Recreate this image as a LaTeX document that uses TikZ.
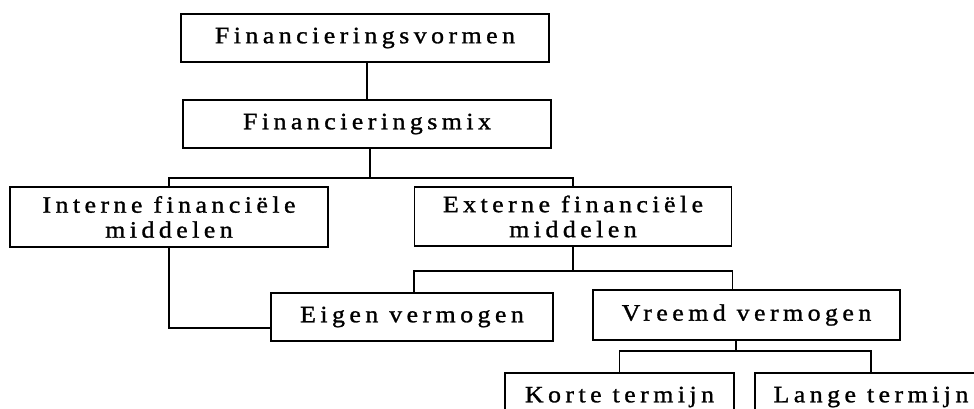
\documentclass[tikz,border=0pt]{standalone}
\usepackage{fontspec}
\setmainfont[LetterSpace=19,FakeStretch=1.1,FakeBold=1.2]{Liberation Serif}
\begin{document}
\begin{tikzpicture}[x=1pt,y=-1pt,
  box/.style={draw, line width=1.3pt, inner sep=0pt, align=center,
              font=\fontsize{23.5}{25}\selectfont},
  link/.style={line width=1.3pt}]
\useasboundingbox (0,0) rectangle (974,408);
\clip (0,0) rectangle (974,408);
\fill[white] (0,0) rectangle (974,408);
% boxes
\node[box, minimum width=368pt, minimum height=48pt] (vorm) at (365,38) {Financieringsvormen};
\node[box, minimum width=368pt, minimum height=48pt] (mix) at (367,124) {Financieringsmix};
\node[box, minimum width=318pt, minimum height=60pt] (int) at (169,217) {Interne financiële\\middelen};
\node[box, minimum width=317pt, minimum height=59pt] (ext) at (573,216.5) {Externe financiële\\middelen};
\node[box, minimum width=282pt, minimum height=48pt] (eig) at (412,317) {Eigen vermogen};
\node[box, minimum width=307pt, minimum height=50pt] (vre) at (746.5,315) {Vreemd vermogen};
\node[box, minimum width=229pt, minimum height=48pt] (kor) at (619.5,397) {Korte termijn};
\node[box, minimum width=232pt, minimum height=48pt] (lan) at (871,397) {Lange termijn};
% junctions
\coordinate (j1) at (370,178);
\coordinate (j2) at (573,271);
\coordinate (j3) at (736,351);
\coordinate (e1) at (271,328);
% connectors
\draw[link] (vorm.south -| mix.north) -- (mix.north);
\draw[link] (j1 |- mix.south) -- (j1);
\draw[link] (int.north) |- (j1) -| (ext.north);
\draw[link] (int.south) |- (e1);
\draw[link] (ext.south) -- (j2);
\draw[link] (eig.north -| ext.west) |- (j2) -| (vre.north -| ext.east);
\draw[link] (j3 |- vre.south) -- (j3);
\draw[link] (kor.north) |- (j3) -| (lan.north);
\end{tikzpicture}
\end{document}
